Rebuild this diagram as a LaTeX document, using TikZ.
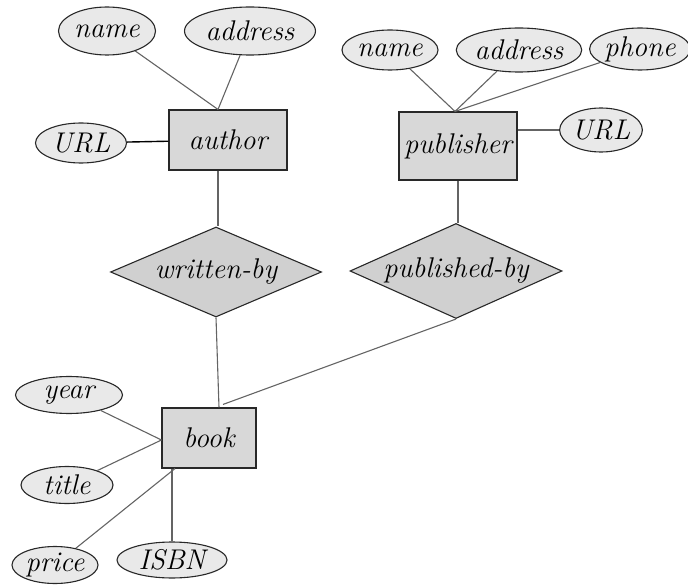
\documentclass[tikz,border=0pt]{standalone}
\definecolor{entgray}{RGB}{216,216,216}
\definecolor{attgray}{RGB}{233,233,233}
\definecolor{relgray}{RGB}{208,208,208}
\definecolor{edgegray}{RGB}{40,40,40}
\definecolor{linegray}{RGB}{100,100,100}
\usetikzlibrary{shapes, positioning}

\begin{document}
\begin{tikzpicture}[x=1pt, y=-1pt,
    every node/.style={font=\fontsize{28.5}{32}\selectfont\itshape},
    entity/.style={draw=edgegray, line width=1.1pt, fill=entgray, inner sep=0pt},
    attr/.style={draw=edgegray, line width=1.1pt, ellipse, fill=attgray, inner sep=0pt},
    rel/.style={draw=edgegray, line width=1.1pt, diamond, fill=relgray, inner sep=0pt, aspect=2.3},
    conn/.style={draw=linegray, line width=1.1pt}]
        \useasboundingbox (0,0) rectangle (688,585);
        % Author entity and its attributes
        \node[entity, minimum width=118pt, minimum height=60pt] (author) at (228,140) {author};
        \node[attr, minimum width=97pt, minimum height=48pt] (aname) at (107,31) {name};
        \node[attr, minimum width=131pt, minimum height=48pt] (aaddr) at (250,31) {address};
        \node[attr, minimum width=91pt, minimum height=40pt] (aurl) at (81,143) {URL};
        \coordinate (atop) at ([xshift=-10pt]author.north);
        \coordinate (abot) at ([xshift=-10pt]author.south);
        \draw[conn] (aname) -- (atop);
        \draw[conn] (aaddr) -- (atop);
        \draw[line width=1.4pt] (aurl) -- (author);
        % Publisher entity and its attributes
        \node[entity, minimum width=118pt, minimum height=68pt] (publisher) at (458,146) {publisher};
        \node[attr, minimum width=96pt, minimum height=40pt] (pname) at (390,50) {name};
        \node[attr, minimum width=116pt, minimum height=44pt] (paddr) at (519,50) {address};
        \node[attr, minimum width=95pt, minimum height=42pt] (pphone) at (640,49) {phone};
        \node[attr, minimum width=77pt, minimum height=44pt] (purl) at (601,130) {URL};
        \coordinate (ptop) at ([xshift=-3pt]publisher.north);
        \draw[conn] (pname) -- (ptop);
        \draw[conn] (paddr) -- (ptop);
        \draw[conn] (pphone) -- (ptop);
        \draw[conn] (publisher.east |- purl) -- (purl);
        % Relationships
        \node[rel, minimum width=211pt, minimum height=90pt] (written) at (216,272) {written-by};
        \node[rel, minimum width=212pt, minimum height=95pt] (published) at (456,271) {published-by};
        % Book entity and its attributes
        \node[entity, minimum width=94pt, minimum height=60pt] (book) at (209,438) {book};
        \node[attr, minimum width=107pt, minimum height=37pt] (year) at (69,395) {year};
        \node[attr, minimum width=92pt, minimum height=37pt] (title) at (67,485) {title};
        \node[attr, minimum width=86pt, minimum height=37pt] (price) at (55,565) {price};
        \node[attr, minimum width=110pt, minimum height=36pt] (isbn) at (172,560) {ISBN};
        \coordinate (bleft) at ([yshift=-2pt]book.west);
        \coordinate (bbot) at ([xshift=-37pt]book.south);
        \draw[conn] (year) -- (bleft);
        \draw[conn] (title) -- (bleft);
        \draw[conn] (price) -- ([xshift=-34pt]book.south);
        \draw[conn] (isbn.north -| bbot) -- (bbot);
        % Relationship links
        \draw[conn] (abot) -- (abot |- written.north);
        \draw[conn] (written.south) -- ([xshift=10pt]book.north);
        \draw[conn] (publisher.south) -- (publisher.south |- published.north);
        \draw[conn] (published.south) -- ([xshift=14pt, yshift=3pt]book.north);
      \end{tikzpicture}
\end{document}
